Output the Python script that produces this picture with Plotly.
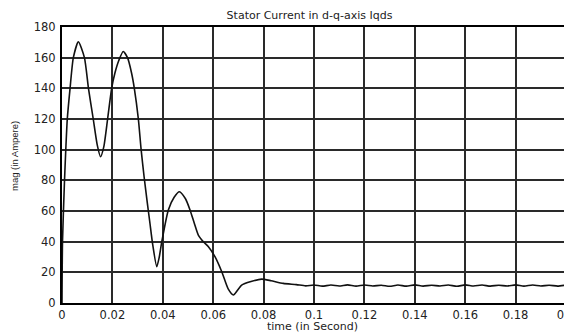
import plotly.graph_objects as go

time_s = [0, 0.0002, 0.001, 0.0015, 0.0021, 0.0032, 0.0045, 0.0065, 0.0089, 0.0105,
          0.0124, 0.0140, 0.0153, 0.0166, 0.0181, 0.0197, 0.0210, 0.0225, 0.0243, 0.0260,
          0.0276, 0.0287, 0.0303, 0.0314, 0.0326, 0.0338, 0.0349, 0.0360, 0.0376,
          0.0386, 0.0396, 0.0422, 0.0445, 0.0466, 0.0490, 0.0508, 0.0525, 0.0541, 0.0561,
          0.0581, 0.0607, 0.0634, 0.0660, 0.0680, 0.0713, 0.0750, 0.0792, 0.0830, 0.0878,
          0.0930, 0.0967,
          0.1000, 0.1033, 0.1067, 0.1100, 0.1133, 0.1167, 0.1200, 0.1233, 0.1267, 0.1300,
          0.1333, 0.1367, 0.1400, 0.1433, 0.1467, 0.1500, 0.1533, 0.1567, 0.1600, 0.1633,
          0.1667, 0.1700, 0.1733, 0.1767, 0.1800, 0.1833, 0.1867, 0.1900, 0.1933, 0.1967,
          0.2000]
iqds = [0, 40, 80, 100, 120, 140, 160, 170.4, 160, 140,
        120, 103, 95.4, 102, 120, 140, 150, 158, 164, 160,
        150, 140, 120, 100, 82, 66, 52, 38, 23.7,
        30, 40, 60.7, 69, 72.6, 68, 60.7, 52, 44.3, 40,
        36.7, 30.2, 20.4, 9, 5.2, 11.7, 14, 15.6, 14.5, 12.8,
        12.0, 11.2,
        11.7, 11.0, 11.7, 11.1, 11.8, 11.0, 11.7, 11.1, 11.6, 10.9,
        11.7, 11.0, 11.8, 11.0, 11.6, 11.1, 11.7, 10.9, 11.8, 11.1,
        11.7, 11.0, 11.6, 11.1, 11.8, 11.0, 11.7, 11.1, 11.6, 11.0,
        11.7]

x_ticks = [0, 0.02, 0.04, 0.06, 0.08, 0.1, 0.12, 0.14, 0.16, 0.18, 0.2]
x_labels = ["0", "0.02", "0.04", "0.06", "0.08", "0.1", "0.12", "0.14", "0.16", "0.18", "0.2"]
y_ticks = [0, 20, 40, 60, 80, 100, 120, 140, 160, 180]

W, H = 564, 324  # page body has an 8px margin
L, R, T, B = 54, 6, 19, 29
PW, PH = W - L - R, H - T - B

fig = go.Figure()
fig.add_trace(go.Scatter(x=time_s, y=iqds, mode="lines",
                         line=dict(color="#111111", width=1.6, shape="spline", smoothing=0.6),
                         showlegend=False, hoverinfo="skip"))

txt = "#222222"
tick_font = dict(family="DejaVu Sans, Liberation Sans, sans-serif", size=11.5, color=txt)

fig.update_layout(
    width=W, height=H,
    margin=dict(l=L, r=R, t=T, b=B),
    paper_bgcolor="white", plot_bgcolor="white",
    font=dict(family="DejaVu Sans, Liberation Sans, sans-serif", color=txt, size=11),
    title=dict(text="Stator Current in d-q-axis Iqds", x=301.5 / W, xanchor="center",
               y=1 - 7 / H, yanchor="middle",
               font=dict(family="DejaVu Sans, sans-serif", size=11, color=txt)),
    xaxis=dict(range=[0, 0.2], tickvals=x_ticks, ticktext=x_labels,
               showgrid=True, gridcolor="#2a2a2a", gridwidth=1.6,
               showline=True, linecolor="black", linewidth=2, mirror=True,
               ticks="", zeroline=False, automargin=False,
               tickfont=tick_font, ticklabeloverflow="allow"),
    yaxis=dict(range=[0, 180], tickvals=y_ticks,
               showgrid=True, gridcolor="#2a2a2a", gridwidth=1.6,
               showline=True, linecolor="black", linewidth=2, mirror=True,
               ticks="", zeroline=False, automargin=False,
               tickfont=tick_font, ticklabelstandoff=2),
    annotations=[
        dict(text="mag (in Ampere)", textangle=-90, showarrow=False,
             xref="paper", yref="paper",
             x=(6.5 - L) / PW, y=(H - B - 148.5) / PH,
             xanchor="center", yanchor="middle",
             font=dict(family="Liberation Sans Narrow, Liberation Sans, sans-serif",
                       size=9.5, color=txt)),
        dict(text="time (in Second)", showarrow=False,
             xref="paper", yref="paper",
             x=(304 - L) / PW, y=(H - B - 318) / PH,
             xanchor="center", yanchor="middle",
             font=dict(family="DejaVu Sans, sans-serif", size=11, color=txt)),
    ],
)

fig.write_html("out.html")
